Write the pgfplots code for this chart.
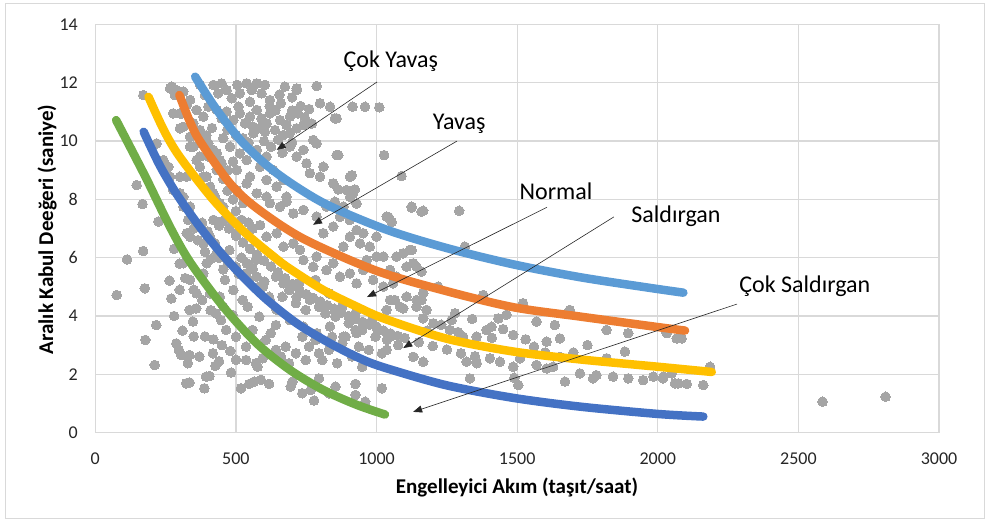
\documentclass[border=0pt]{standalone}
\usepackage{fontspec}
\setmainfont{Carlito}
\usepackage{pgfplots}
\usepackage{pgfplotstable}
\pgfplotsset{compat=1.18}
\usetikzlibrary{arrows.meta}

\definecolor{gridgray}{HTML}{D9D9D9}
\definecolor{dotgray}{HTML}{A5A5A5}
\definecolor{cGreen}{HTML}{70AD47}
\definecolor{cBlue}{HTML}{4472C4}
\definecolor{cYellow}{HTML}{FFC000}
\definecolor{cOrange}{HTML}{ED7D31}
\definecolor{cLight}{HTML}{5B9BD5}
\definecolor{ticktext}{HTML}{262626}

% Observed gaps: conflicting flow (veh/h) vs. accepted gap (s)
\pgfplotstableread{
x y
76 4.72
113 5.94
170 6.23
176 4.95
264 5.21
217 3.69
178 3.18
211 2.32
147 8.49
168 7.84
224 7.24
171 11.58
266 11.81
289 11.75
301 10.95
288 3.06
297 2.84
306 2.66
335 2.66
329 2.38
370 2.61
418 2.72
427 2.29
323 1.69
335 1.72
394 1.92
388 1.52
406 1.94
483 2.06
518 1.52
547 1.67
565 1.75
589 1.81
618 1.67
571 2.38
595 2.55
536 2.49
577 2.26
701 1.75
695 1.58
736 1.35
778 1.10
766 1.46
795 1.86
831 1.35
854 1.58
925 1.67
960 1.06
925 1.29
1019 1.52
335 4.21
359 4.26
347 3.81
429 4.09
447 3.86
465 3.52
488 4.04
500 3.29
524 4.55
542 4.32
536 2.95
559 3.52
583 3.98
606 3.18
624 3.41
642 3.69
642 2.84
660 2.61
677 2.95
689 2.38
713 2.72
736 3.29
748 2.49
760 2.95
783 3.18
795 2.72
807 2.49
831 2.84
842 3.29
860 2.38
878 3.06
890 3.29
913 2.61
925 3.52
937 2.95
949 2.26
972 2.84
996 3.29
1019 2.72
1037 3.18
477 6.26
500 5.69
536 5.46
547 5.24
571 5.92
583 5.01
601 5.18
618 4.66
642 5.35
665 4.66
689 4.89
713 4.44
724 5.12
748 4.21
760 4.66
783 5.24
795 4.32
818 4.09
831 4.78
854 3.98
878 4.32
901 3.75
925 4.09
949 3.52
984 3.86
1012 3.52
1036 4.21
325 6.84
337 6.72
384 6.49
408 6.72
313 5.81
337 5.24
384 5.46
396 5.81
431 6.15
408 4.78
443 4.66
426 6.49
461 5.24
360 4.78
491 4.89
455 4.32
218 9.92
242 9.35
266 8.78
301 8.21
337 7.75
372 7.06
277 10.95
313 10.49
337 9.81
360 9.35
396 8.78
420 8.21
455 7.75
479 7.29
503 6.83
372 10.38
443 9.35
420 9.69
260 9.12
277 8.32
313 7.75
272 11.87
283 11.58
313 11.70
337 11.41
372 11.93
390 11.58
420 11.93
437 11.64
449 11.98
467 11.75
485 11.47
505 11.93
514 11.64
538 11.98
556 11.75
574 11.98
591 11.64
603 11.93
621 11.41
550 11.35
509 11.18
674 11.87
716 11.75
787 11.89
799 11.30
307 10.95
325 11.24
360 11.07
384 10.84
402 11.18
432 11.07
449 10.78
467 11.01
491 10.72
514 10.95
532 10.61
550 10.84
574 11.07
591 10.78
609 10.61
621 10.95
639 10.38
657 10.72
680 10.55
692 10.27
716 10.44
740 10.55
775 10.04
858 10.78
692 10.84
603 10.32
562 10.27
301 10.44
349 9.81
372 9.47
402 9.92
432 9.58
449 9.24
479 9.81
503 9.01
514 9.58
538 9.35
550 8.78
574 9.70
586 9.12
609 8.67
609 9.47
633 9.01
645 8.44
669 8.67
680 8.09
609 8.09
574 8.21
538 8.55
503 8.32
526 7.87
669 10.21
692 9.81
716 9.47
740 9.70
751 9.24
787 9.92
763 8.90
799 8.78
811 9.12
846 8.55
858 9.52
852 7.92
894 8.32
337 10.15
372 9.12
384 8.78
402 9.47
408 8.44
432 9.01
426 8.09
443 7.87
349 10.61
301 8.78
313 8.09
325 8.78
621 7.87
657 7.75
680 7.92
704 7.52
740 7.64
787 7.41
822 7.75
846 7.07
811 6.84
882 6.38
905 6.72
929 6.95
953 6.84
941 6.49
976 6.38
1000 6.72
1036 7.41
1125 7.75
1160 7.58
905 7.29
586 7.12
609 6.72
645 6.84
669 6.38
704 6.49
728 6.27
740 5.92
775 5.69
787 6.04
822 5.58
846 5.81
870 5.35
905 5.46
929 5.12
953 5.58
965 5.92
988 5.24
1000 6.04
1024 5.01
1048 5.58
1071 5.35
1095 6.15
1119 6.27
1131 5.81
1107 4.66
1143 4.55
1048 4.55
1083 4.32
1166 4.78
574 5.35
597 5.01
669 5.12
716 4.66
763 4.55
811 4.32
858 4.09
905 3.98
953 3.75
1000 3.64
645 4.21
692 3.86
740 3.64
787 3.41
621 4.55
834 3.64
882 3.29
929 3.41
450 7.25
475 7.00
500 6.75
525 6.52
550 6.30
575 6.10
600 5.90
625 5.70
650 5.50
675 5.30
700 5.10
725 4.92
750 4.75
775 4.62
800 4.50
825 4.37
850 4.25
875 4.12
900 4.00
925 3.90
950 3.80
975 3.70
1000 3.60
1025 3.50
1050 3.40
1075 3.32
1100 3.25
1150 3.10
1200 2.97
1250 2.85
1300 2.72
1350 2.62
1024 6.04
1071 6.04
1095 6.15
1125 6.26
1107 5.69
1142 5.69
1160 5.52
1314 6.38
1059 5.12
1065 4.55
1095 4.26
1142 4.32
1160 4.55
1178 4.21
1166 3.92
1202 3.75
1219 5.01
1261 3.52
1279 4.09
1267 3.86
1308 3.29
1356 3.29
1379 4.72
1391 3.52
1409 3.63
1433 3.92
1462 4.04
1486 3.35
1521 4.44
1569 3.81
1605 3.12
1634 3.69
1652 3.23
1687 4.21
1818 3.52
1883 2.78
1895 3.41
2031 3.46
2067 3.23
1320 2.43
1356 2.38
1403 2.55
1439 2.43
1486 2.26
1510 2.55
1569 2.32
1605 2.20
1628 2.26
1652 2.60
1670 1.75
1723 2.03
1770 1.86
1782 1.97
1818 2.55
1841 1.92
1895 1.86
1948 1.80
1984 1.92
2019 1.86
2061 1.69
1332 1.86
1504 1.63
1490 1.88
1166 2.43
1131 2.60
1048 3.29
1036 2.84
1077 3.00
2032 3.41
2085 3.23
2186 2.26
2073 1.69
2103 1.67
2162 1.63
2020 1.92
2049 2.03
2586 1.06
2810 1.23
835 11.18
852 10.78
915 11.18
959 11.18
1010 11.16
864 9.52
1027 9.52
912 8.83
864 8.34
923 8.34
906 8.09
929 7.86
1089 8.80
1125 7.72
1166 7.61
1294 7.61
1042 7.40
1054 7.23
882 7.75
870 7.40
716 11.81
917 8.20
906 8.78
395 10.20
415 10.45
455 10.10
470 10.40
500 10.20
525 10.10
545 9.95
560 10.50
585 10.45
600 10.00
625 9.80
650 10.05
665 9.60
700 9.95
620 11.20
640 11.05
660 11.30
655 11.60
700 11.50
730 11.20
700 11.05
760 11.10
745 10.80
770 10.60
720 10.95
455 8.70
470 8.30
490 8.00
500 7.60
520 7.30
545 7.20
560 7.00
470 9.00
490 9.30
330 7.30
350 7.00
365 6.60
390 6.20
410 5.95
440 6.00
455 5.60
470 5.90
510 5.45
520 6.00
540 5.80
560 5.60
380 7.20
400 6.90
420 7.30
440 7.10
280 6.30
300 5.80
320 5.30
350 4.90
380 4.55
410 4.20
300 4.90
270 4.60
280 4.00
310 3.50
350 3.30
390 3.30
420 3.20
450 3.00
480 2.80
500 2.50
440 2.45
1180 3.50
1230 3.70
1290 3.45
1340 3.90
1410 3.25
1450 3.55
1530 3.20
1560 2.95
1600 2.75
1700 2.75
1750 3.00
}\gapdata

\begin{document}
\begin{tikzpicture}
\path[use as bounding box] (0,0) rectangle (987bp,522bp);
\draw[gridgray, line width=1bp] (5bp,3.5bp) rectangle (984.5bp,518.7bp);

\begin{axis}[
  at={(95.3bp,89.4bp)}, anchor=south west,
  scale only axis, width=843.7bp, height=408.1bp,
  xmin=0, xmax=3000, ymin=0, ymax=14,
  xtick={0,500,...,3000}, ytick={0,2,...,14},
  grid=major,
  major grid style={gridgray, line width=1.2bp},
  axis line style={gridgray, line width=1.2bp},
  major tick length=0pt,
  clip=false,
  clip marker paths=true,
  /pgf/number format/assume math mode=true,
  /pgf/number format/1000 sep={},
  tick label style={font=\fontsize{18bp}{20bp}\selectfont, text=ticktext},
  xticklabel style={anchor=north, inner sep=0pt, yshift=-20.4bp},
  yticklabel style={anchor=east, inner sep=0pt, xshift=-17.3bp},
]

\addplot[only marks, mark=*, mark size=4.8bp, color=dotgray,
  mark options={draw=dotgray, fill=dotgray, line width=0pt}] table[x=x, y=y] {\gapdata};

% Çok Saldırgan
\addplot[cGreen, no marks, smooth, line width=8.5bp, line cap=round] coordinates {
  (74,10.72) (177,8.80) (266,7.05) (337,5.85) (455,4.32) (574,3.06)
  (692,2.15) (811,1.46) (930,0.95) (1030,0.62)};
% Saldırgan
\addplot[cBlue, no marks, smooth, line width=8.5bp, line cap=round] coordinates {
  (172,10.32) (230,9.15) (295,8.10) (384,6.90) (479,5.81) (598,4.66)
  (716,3.75) (835,3.06) (954,2.49) (1048,2.17) (1250,1.62) (1487,1.19)
  (1724,0.89) (2000,0.64) (2162,0.55)};
% Normal
\addplot[cYellow, no marks, smooth, line width=8.5bp, line cap=round] coordinates {
  (189,11.52) (245,10.35) (301,9.45) (420,7.98) (530,6.88) (639,6.00)
  (692,5.62) (811,4.89) (930,4.32) (1030,3.90) (1250,3.22) (1487,2.78)
  (1724,2.51) (2000,2.26) (2192,2.08)};
% Yavaş
\addplot[cOrange, no marks, smooth, line width=8.5bp, line cap=round] coordinates {
  (299,11.58) (335,10.70) (372,10.00) (479,8.55) (574,7.70) (740,6.65)
  (1000,5.55) (1250,4.85) (1487,4.30) (1724,3.98) (2000,3.62) (2097,3.50)};
% Çok Yavaş
\addplot[cLight, no marks, smooth, line width=8.5bp, line cap=round] coordinates {
  (355,12.21) (432,11.07) (527,9.92) (645,8.90) (811,7.88) (1030,6.98)
  (1250,6.33) (1487,5.77) (1724,5.33) (1961,4.98) (2091,4.80)};

% curve labels with leader arrows
\tikzset{lbl/.style={anchor=base, font=\fontsize{24bp}{28bp}\selectfont},
         ldr/.style={-{Triangle[length=9bp,width=7bp]}, line width=0.6bp, black!85}}
\node[lbl] at (axis cs:1051,12.54) {Çok Yavaş};
\draw[ldr] (axis cs:1002,12.03) -- (axis cs:645,9.70);
\node[lbl] at (axis cs:1294,10.41) {Yavaş};
\draw[ldr] (axis cs:1286,10.0) -- (axis cs:774,7.13);
\node[lbl] at (axis cs:1638,8.01) {Normal};
\draw[ldr] (axis cs:1606,7.73) -- (axis cs:966,4.65);
\node[lbl] at (axis cs:2065,7.20) {Saldırgan};
\draw[ldr] (axis cs:1844,7.40) -- (axis cs:1095,2.90);
\node[lbl] at (axis cs:2523,4.79) {Çok Saldırgan};
\draw[ldr] (axis cs:2282,4.41) -- (axis cs:1130,0.71);
\end{axis}

\node[anchor=base, font=\bfseries\fontsize{21bp}{24bp}\selectfont] at (517bp,28.5bp)
  {Engelleyici Akım (taşıt/saat)};
\node[rotate=90, anchor=base, font=\bfseries\fontsize{21bp}{24bp}\selectfont] at (53bp,292.5bp)
  {Aralık Kabul Deeğeri (saniye)};
\end{tikzpicture}
\end{document}
